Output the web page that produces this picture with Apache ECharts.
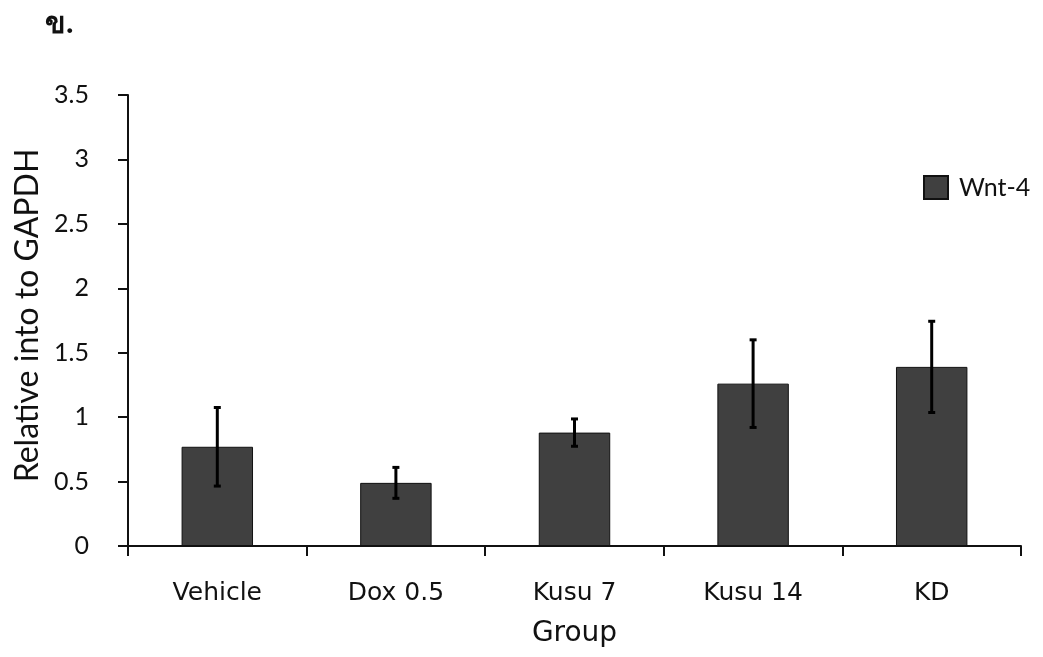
<!DOCTYPE html>
<html>
<head>
<meta charset="utf-8">
<script src="https://cdn.jsdelivr.net/npm/echarts@6/dist/echarts.min.js"></script>
<style>
  html, body { margin: 0; padding: 0; background: #fff; }
  #chart { width: 1043px; height: 657px; }
</style>
</head>
<body>
<div id="chart"></div>
<script>
// Wnt-4 expression relative to GAPDH, mean ± error per treatment group
const groups = ['Vehicle', 'Dox 0.5', 'Kusu 7', 'Kusu 14', 'KD'];
const wnt4Mean = [0.77, 0.49, 0.88, 1.26, 1.39];
const wnt4Err = [0.305, 0.12, 0.106, 0.34, 0.354];

const errorData = groups.map((g, i) => [i, wnt4Mean[i] - wnt4Err[i], wnt4Mean[i] + wnt4Err[i]]);

const tickFont = 'Lato, "Open Sans", sans-serif';
const catFont = '"DejaVu Sans", sans-serif';

const chart = echarts.init(document.getElementById('chart'));
chart.setOption({
  animation: false,
  backgroundColor: '#ffffff',
  title: {
    text: 'ข.',
    left: 40,
    top: 5,
    textStyle: { fontSize: 30, fontWeight: 'bold', color: '#111', fontFamily: 'serif' }
  },
  legend: {
    data: ['Wnt-4'],
    left: 923,
    top: 175,
    padding: 0,
    itemWidth: 24,
    itemHeight: 23,
    itemGap: 10,
    icon: 'rect',
    textStyle: { fontSize: 25, color: '#111', fontFamily: tickFont, padding: [0, 0, 0, 6] }
  },
  grid: { left: 128, right: 22, top: 95, bottom: 111, containLabel: false },
  xAxis: {
    type: 'category',
    data: groups,
    boundaryGap: true,
    name: 'Group',
    nameLocation: 'middle',
    nameGap: 74,
    nameTextStyle: { fontSize: 28, color: '#111', fontFamily: catFont },
    axisLine: { lineStyle: { color: '#111', width: 2 } },
    axisTick: { show: true, length: 10, interval: 0, lineStyle: { color: '#111', width: 2 } },
    axisLabel: { margin: 35, fontSize: 25, color: '#111', fontFamily: catFont, interval: 0 },
    splitLine: { show: false }
  },
  yAxis: {
    type: 'value',
    min: 0,
    max: 3.5,
    interval: 0.5,
    name: 'Relative into to GAPDH',
    nameLocation: 'middle',
    nameGap: 84,
    nameTextStyle: { fontSize: 32, color: '#111', fontFamily: tickFont, padding: [0, 0, 0, 10] },
    axisLine: { show: true, lineStyle: { color: '#111', width: 2 } },
    axisTick: { show: true, length: 10, lineStyle: { color: '#111', width: 2 } },
    axisLabel: { margin: 39, fontSize: 25, color: '#111', fontFamily: tickFont },
    splitLine: { show: false }
  },
  series: [
    {
      name: 'Wnt-4',
      type: 'bar',
      data: wnt4Mean,
      barWidth: '40%',
      itemStyle: { color: '#404040', borderColor: '#111', borderWidth: 1 }
    },
    {
      name: 'error',
      type: 'custom',
      data: errorData,
      encode: { x: 0, y: [1, 2] },
      z: 10,
      renderItem: function (params, api) {
        const x = api.value(0);
        const lo = api.coord([x, api.value(1)]);
        const hi = api.coord([x, api.value(2)]);
        const half = 3.5;
        const style = { stroke: '#000', lineWidth: 3 };
        return {
          type: 'group',
          children: [
            { type: 'line', shape: { x1: hi[0], y1: hi[1], x2: lo[0], y2: lo[1] }, style: style },
            { type: 'line', shape: { x1: hi[0] - half, y1: hi[1], x2: hi[0] + half, y2: hi[1] }, style: { stroke: '#000', lineWidth: 3 } },
            { type: 'line', shape: { x1: lo[0] - half, y1: lo[1], x2: lo[0] + half, y2: lo[1] }, style: { stroke: '#000', lineWidth: 3 } }
          ]
        };
      }
    }
  ]
});
</script>
</body>
</html>
